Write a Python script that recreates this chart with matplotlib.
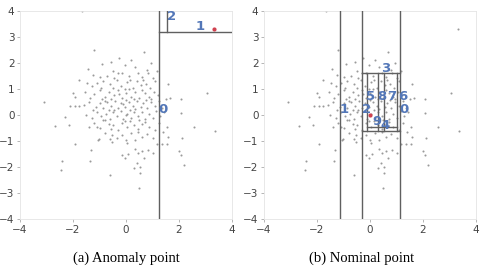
import matplotlib
matplotlib.use("Agg")
import matplotlib.pyplot as plt

# scatter data (same sample shown in both panels)
xs = [-1.66, -1.21, 0.68, -1.77, -1.47, -1.92, -2.11, -1.92, -1.77, -2.3, -2.68, -2.45, -2.42,
      -1.92, -1.33, -1.36, -1.02, -0.6, -0.53, 0.04, -0.15, -0.04, 0.08, 0.34, 0.45, 0.6, 0.68,
      0.42, 0.53, 0.3, 0.53, 0.49, 0.83, 1.02, 1.17, 1.36, 1.55, 1.6, 2.0, 2.06, 2.2, 2.1, 3.06,
      2.06, 2.08, 2.57, 3.36, 1.58, 1.66, 1.5, -3.09, -2.0, -1.45, -2.15,
      -0.55, 0.19, -0.04, 0.34, -0.9, 0.95, -0.25,
      -0.49, -0.3, -0.15, 0.45, 0.79, 0.83, 1.17, -0.7, -1.0, 0.1, 0.6, -0.45, 1.0, -1.25,
      -1.1, -0.85, -0.6, -0.35, -0.2, 0.05, 0.25, 0.4, 0.55, 0.75, 0.9, 1.1, -0.95, -0.5, 0.15,
      -1.3, -0.05, 0.65,
      -1.55, -1.2, -1.0, -0.8, -0.65, -0.45, -0.3, -0.15, 0.0, 0.2, 0.35, 0.5, 0.7, 0.85, 1.05,
      1.2, -0.9, -0.55, 0.1, 0.6, -1.35, 0.95, -0.25, 0.3,
      -1.6, -1.4, -1.15, -1.0, -0.85, -0.7, -0.55, -0.4, -0.3, -0.2, -0.05, 0.1, 0.25, 0.4, 0.55,
      0.65, 0.8, 0.95, 1.1, 1.25, -0.8, 0.0, 0.35, -0.45, 1.35, -1.25, 0.75, -0.1,
      -1.5, -1.3, -1.1, -0.95, -0.75, -0.6, -0.5, -0.35, -0.2, -0.1, 0.05, 0.2, 0.3, 0.45, 0.6,
      0.7, 0.85, 1.0, 1.15, 1.3, -0.65, 0.15, 0.5, -0.85, 1.45,
      -1.4, -1.2, -1.09, -0.98, -0.79, -0.65, -0.49, -0.3, -0.15, 0.04, 0.15, 0.3, 0.45, 0.72,
      0.85, 1.1, 1.25, 1.55, -0.55, 0.6, -0.05,
      -1.06, -0.8, -0.53, -0.35, -0.15, 0.2, 0.45, 0.6, 0.8, 1.4, 0.0, -0.6, 1.0, 0.35,
      3.32, 0.0]
ys = [4.0, 2.5, 2.42, 1.35, 1.23, 0.7, 0.35, 0.35, 0.35, -0.08, -0.42, -2.1, -1.77,
      -1.1, -1.36, -1.77, -0.92, -2.3, -1.04, -1.08, -1.54, -1.65, -1.5, -1.3, -1.46, -1.4, -1.65,
      -1.85, -2.0, -2.04, -2.23, -2.8, -1.35, -1.47, -1.1, -1.1, -1.1, -0.85, -1.38, -1.55, -1.92,
      -0.9, 0.85, 0.6, 0.08, -0.46, -0.6, 1.2, 0.65, 0.6, 0.5, 0.85, 1.76, -0.38,
      2.05, 2.1, 1.92, 1.85, 1.95, 2.0, 2.2,
      1.7, 1.62, 1.62, 1.62, 1.73, 1.6, 1.7, 1.5, 1.45, 1.5, 1.45, 1.42, 1.42, 1.55,
      1.23, 1.3, 1.2, 1.35, 1.1, 1.25, 1.05, 1.3, 1.15, 1.2, 1.05, 1.3, 1.05, 1.05, 1.35,
      1.1, 1.0, 1.35,
      0.9, 0.8, 0.95, 0.7, 0.9, 0.75, 0.95, 0.65, 0.85, 0.7, 0.9, 0.65, 0.85, 0.7, 0.9,
      0.75, 0.6, 0.62, 0.98, 0.95, 0.65, 0.6, 0.8, 0.6,
      0.4, 0.5, 0.3, 0.45, 0.25, 0.5, 0.35, 0.55, 0.25, 0.45, 0.3, 0.5, 0.35, 0.55, 0.3,
      0.45, 0.25, 0.5, 0.35, 0.55, 0.55, 0.58, 0.22, 0.2, 0.25, 0.2, 0.58, 0.42,
      0.0, -0.1, 0.1, -0.05, 0.05, -0.15, 0.1, -0.05, 0.15, -0.15, 0.05, -0.1, 0.12, -0.05, 0.1,
      -0.15, 0.05, -0.1, 0.15, -0.05, 0.18, 0.18, -0.18, -0.18, 0.1,
      -0.45, -0.3, -0.46, -0.5, -0.19, -0.35, -0.38, -0.58, -0.3, -0.46, -0.25, -0.4, -0.55, -0.27,
      -0.45, -0.58, -0.3, -0.46, -0.55, -0.35, -0.22,
      -0.96, -0.7, -0.77, -0.9, -0.77, -0.7, -0.65, -0.85, -0.75, -0.65, -0.95, -0.92, -0.9, -0.95,
      3.3, 0.0]

# highlighted query points
anomaly = (3.32, 3.3)
nominal = (0.0, 0.0)

# isolation tree splits: (x0, x1, y0, y1)
splits_a = [(1.25, 1.25, -4, 4), (1.25, 4, 3.2, 3.2), (1.55, 1.55, 3.2, 4)]
labels_a = ["0", "1", "2"]
lab_x_a = [1.4, 2.79, 1.72]
lab_y_a = [0.19, 3.4, 3.8]

splits_b = [(-1.14, -1.14, -4, 4), (-0.29, -0.29, -4, 4), (1.14, 1.14, -4, 4),
            (-0.29, 1.14, 1.62, 1.62), (-0.29, 1.14, -0.6, -0.6),
            (-0.13, -0.13, -0.6, 1.62), (0.31, 0.31, -0.6, 1.62), (0.54, 0.54, -0.6, 1.62),
            (1.0, 1.0, -0.6, 1.62), (-0.13, 1.0, -0.45, -0.45)]
labels_b = ["0", "1", "2", "3", "4", "5", "6", "7", "8", "9"]
lab_x_b = [1.29, -0.97, -0.12, 0.59, 0.57, 0.03, 1.24, 0.82, 0.44, 0.25]
lab_y_b = [0.19, 0.19, 0.19, 1.77, -0.42, 0.69, 0.69, 0.69, 0.69, -0.26]

fig = plt.figure(figsize=(4.83, 2.72), dpi=100)
ax1 = fig.add_axes([0.0414, 0.195, 0.439, 0.765])
ax2 = fig.add_axes([0.5466, 0.195, 0.439, 0.765])

blue = "#5377b8"
for ax, splits, labs, lx, ly, red in [(ax1, splits_a, labels_a, lab_x_a, lab_y_a, anomaly),
                                      (ax2, splits_b, labels_b, lab_x_b, lab_y_b, nominal)]:
    ax.scatter(xs, ys, s=2.2, color="#9a9a9a", linewidths=0, zorder=2)
    for x0, x1, y0, y1 in splits:
        ax.plot([x0, x1], [y0, y1], color="#606060", lw=1.0, zorder=3)
    ax.scatter([red[0]], [red[1]], s=9, color="#d0414f", linewidths=0, zorder=4)
    for t, x, y in zip(labs, lx, ly):
        ax.text(x, y, t, color=blue, fontsize=9.5, fontweight="bold",
                ha="center", va="center", zorder=5)
    ax.set_xlim(-4, 4)
    ax.set_ylim(-4, 4)
    ax.set_xticks([-4, -2, 0, 2, 4])
    ax.set_yticks(range(-4, 5))
    ax.tick_params(labelsize=7.5, colors="#444444", length=2.5, width=0.6, pad=1.5)
    ax.tick_params(axis="both", color="#aaaaaa")
    for sp in ax.spines.values():
        sp.set_color("#e4e4e4")
        sp.set_linewidth(0.6)

fig.text(0.261, 0.051, "(a) Anomaly point", ha="center", va="center",
         fontsize=10.5, family="Liberation Serif")
fig.text(0.748, 0.051, "(b) Nominal point", ha="center", va="center",
         fontsize=10.5, family="Liberation Serif")

fig.savefig("out.png", dpi=100)
